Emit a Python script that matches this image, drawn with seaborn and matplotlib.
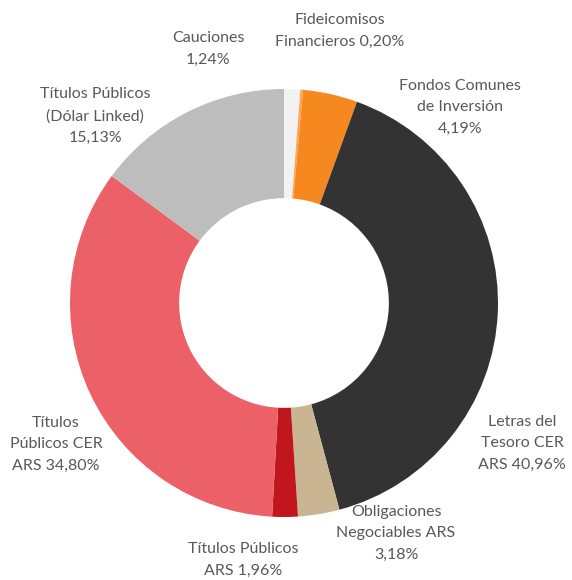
import matplotlib
matplotlib.use("Agg")
import matplotlib.pyplot as plt
import seaborn as sns

# Portfolio composition (%), clockwise from 12 o'clock
labels = [
    "Cauciones\n1,24%",
    "Fideicomisos\nFinancieros 0,20%",
    "Fondos Comunes\nde Inversión\n4,19%",
    "Letras del\nTesoro CER\nARS 40,96%",
    "Obligaciones\nNegociables ARS\n3,18%",
    "Títulos Públicos\nARS 1,96%",
    "Títulos\nPúblicos CER\nARS 34,80%",
    "Títulos Públicos\n(Dólar Linked)\n15,13%",
]
shares = [1.24, 0.20, 4.19, 40.96, 3.18, 1.96, 34.80, 15.13]
colors = ["#f2f2f2", "#f9a75a", "#f5891f", "#333333",
          "#c9b592", "#c1161e", "#ec6067", "#bdbdbd"]

# label anchor points (pixel coords, origin top-left)
label_xy = [(208, 49), (340, 31), (460, 107), (522, 443),
            (396, 533), (243, 560), (56, 444), (95, 116)]

sns.set_theme(style="white")
plt.rcParams["font.family"] = ["Lato", "DejaVu Sans"]

W, H = 572, 580
fig = plt.figure(figsize=(W / 100, H / 100), dpi=100)
ax = fig.add_axes([0, 0, 1, 1])

cx, cy, r = 284, H - 303, 214
ax.pie(shares, colors=colors, startangle=90, counterclock=False,
       center=(cx, cy), radius=r, frame=True,
       wedgeprops=dict(width=r * 0.51, linewidth=0))
ax.set_xlim(0, W)
ax.set_ylim(0, H)
ax.set_aspect("equal")
ax.axis("off")

for text, (x, y) in zip(labels, label_xy):
    ax.text(x, H - y, text, ha="center", va="center", fontsize=11.5,
            color="#595959", linespacing=1.68)

fig.savefig("out.png", dpi=100)
